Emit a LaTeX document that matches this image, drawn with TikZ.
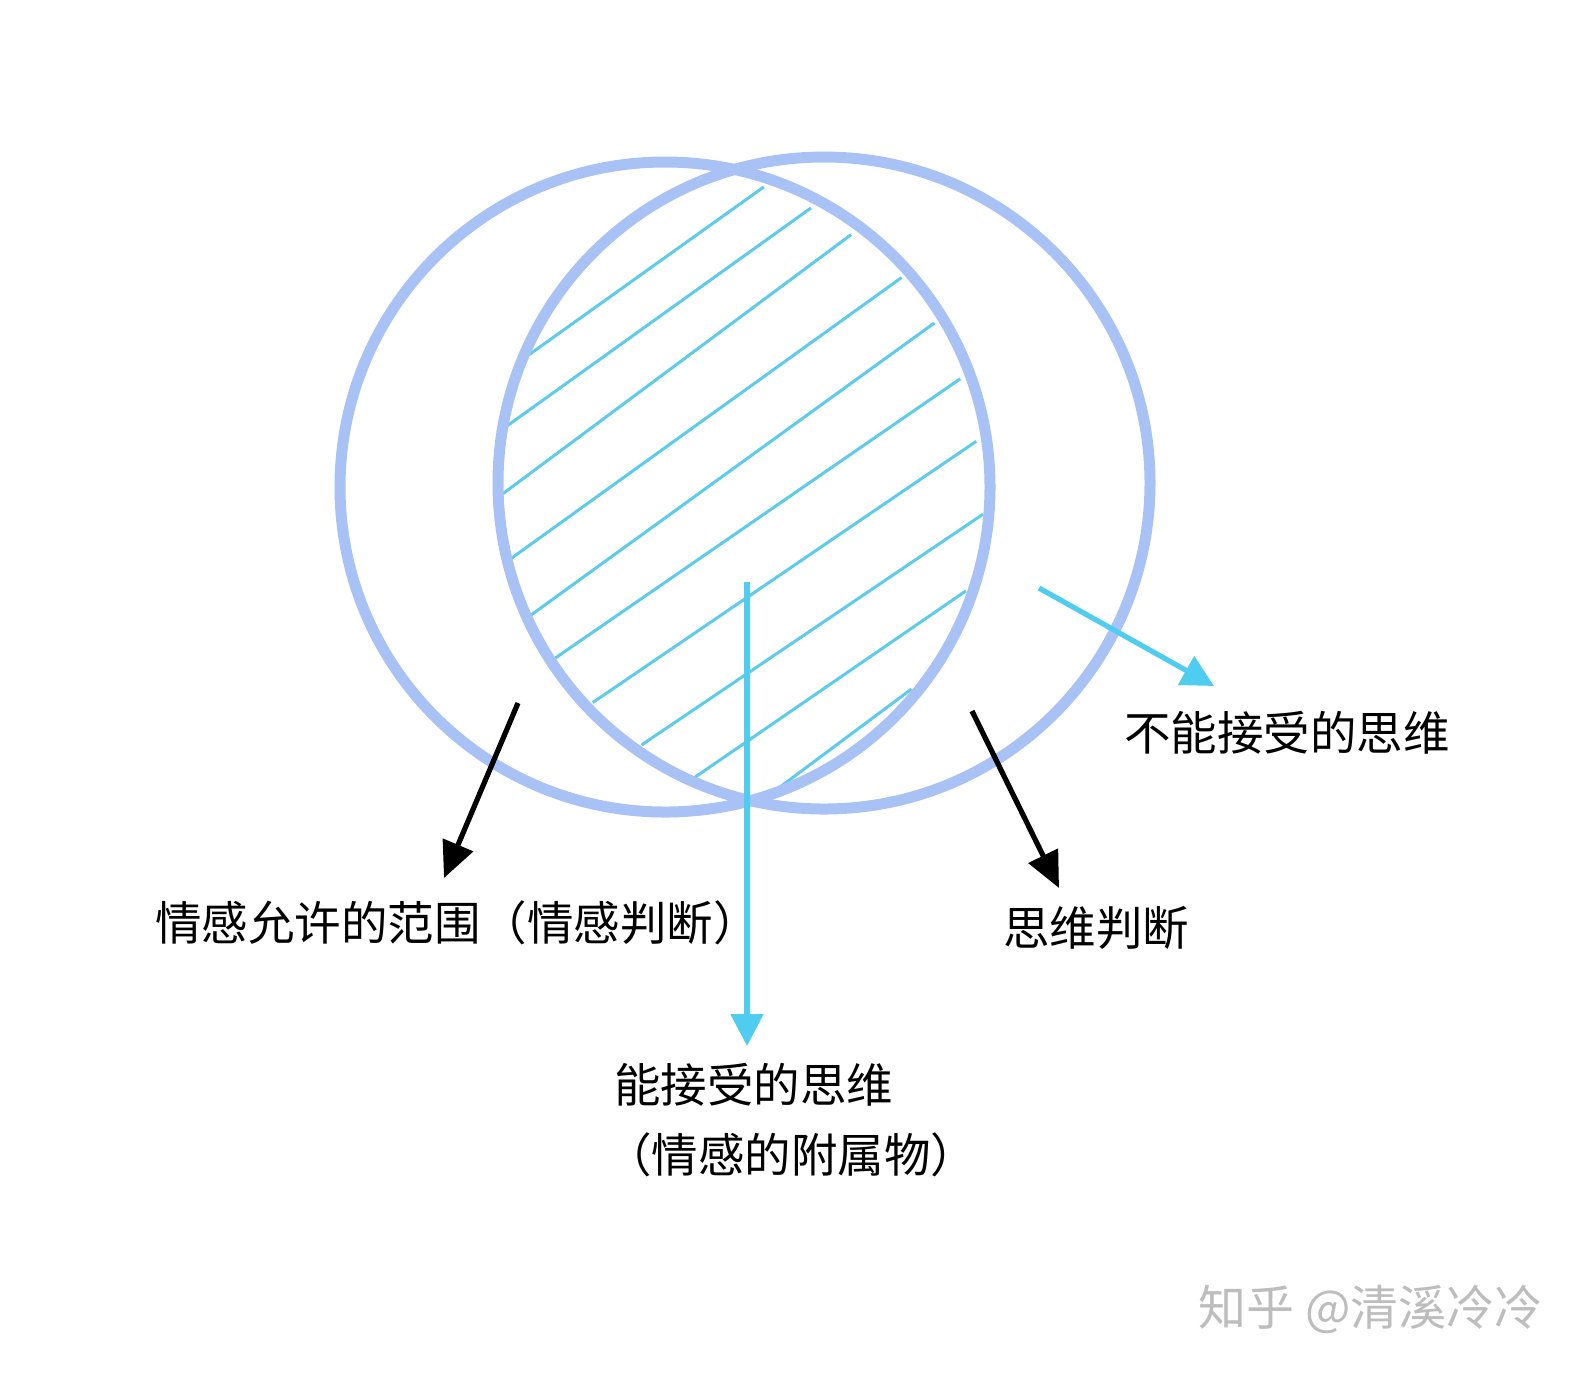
\documentclass[tikz,border=0pt]{standalone}
\usepackage{fontspec}
\setmainfont{Noto Sans CJK SC}
\usetikzlibrary{arrows.meta}
\definecolor{ring}{HTML}{A8C2F6}
\definecolor{hatch}{HTML}{5CCBEC}
\definecolor{cyanarr}{HTML}{4FCDF0}
\definecolor{wmark}{HTML}{BDBDBD}
\begin{document}
\begin{tikzpicture}[x=0.5pt,y=-0.5pt,
  ringline/.style={draw=ring,line width=5.5pt},
  hatchline/.style={draw=hatch,line width=1.5pt},
  blackarrow/.style={draw=black,line width=2.6pt,-{Triangle[length=18pt,width=16pt]}},
  cyanarrow/.style={draw=cyanarr,line width=2.6pt,-{Triangle[length=16pt,width=16pt]}},
  txt/.style={font=\fontsize{23.25pt}{28pt}\selectfont,inner sep=0pt,anchor=west}]
\useasboundingbox[fill=white] (0,0) rectangle (1582,1373);
% hatching inside the lens
\draw[hatchline] (529.6,354.3) -- (763.8,186.9);
\draw[hatchline] (498,432.4) -- (811,207.9);
\draw[hatchline] (495.2,499.4) -- (851.1,234.6);
\draw[hatchline] (509.5,559.6) -- (901.6,277.5);
\draw[hatchline] (528.5,616.8) -- (934.3,323);
\draw[hatchline] (555.5,657.9) -- (960.2,378.8);
\draw[hatchline] (592.8,702.5) -- (976.2,441.3);
\draw[hatchline] (641.6,744.9) -- (983.1,514.1);
\draw[hatchline] (693.2,778.4) -- (965.9,590.9);
\draw[hatchline] (776.5,789.6) -- (911.4,689.1);
% circles
\draw[ringline] (665,487) circle[radius=162.5pt];
\draw[ringline] (824,483) circle[radius=163pt];
% labels
\node[txt] (t1) at (155,923) {情感允许的范围（情感判断）};
\node[txt] (t2) at (1003,928) {思维判断};
\node[txt] (t3) at (1124,733) {不能接受的思维};
\node[txt] (t4) at (614,1085) {能接受的思维};
\node[txt] (t5) at (605,1155) {（情感的附属物）};
\node[txt,font=\fontsize{24pt}{29pt}\selectfont,text=wmark] (wm) at (1198,1309) {知乎 @清溪冷冷};
% arrows
\coordinate (a1s) at (518,703); \coordinate (a1e) at (444,878);
\coordinate (a2s) at (972,711); \coordinate (a2e) at (1059,888);
\coordinate (a3s) at (747,582); \coordinate (a3e) at (747,1046);
\coordinate (a4s) at (1039,588); \coordinate (a4e) at (1214,686);
\draw[blackarrow] (a1s) -- (a1e);
\draw[blackarrow] (a2s) -- (a2e);
\draw[cyanarrow] (a3s) -- (a3e);
\draw[cyanarrow] (a4s) -- (a4e);
\end{tikzpicture}
\end{document}
